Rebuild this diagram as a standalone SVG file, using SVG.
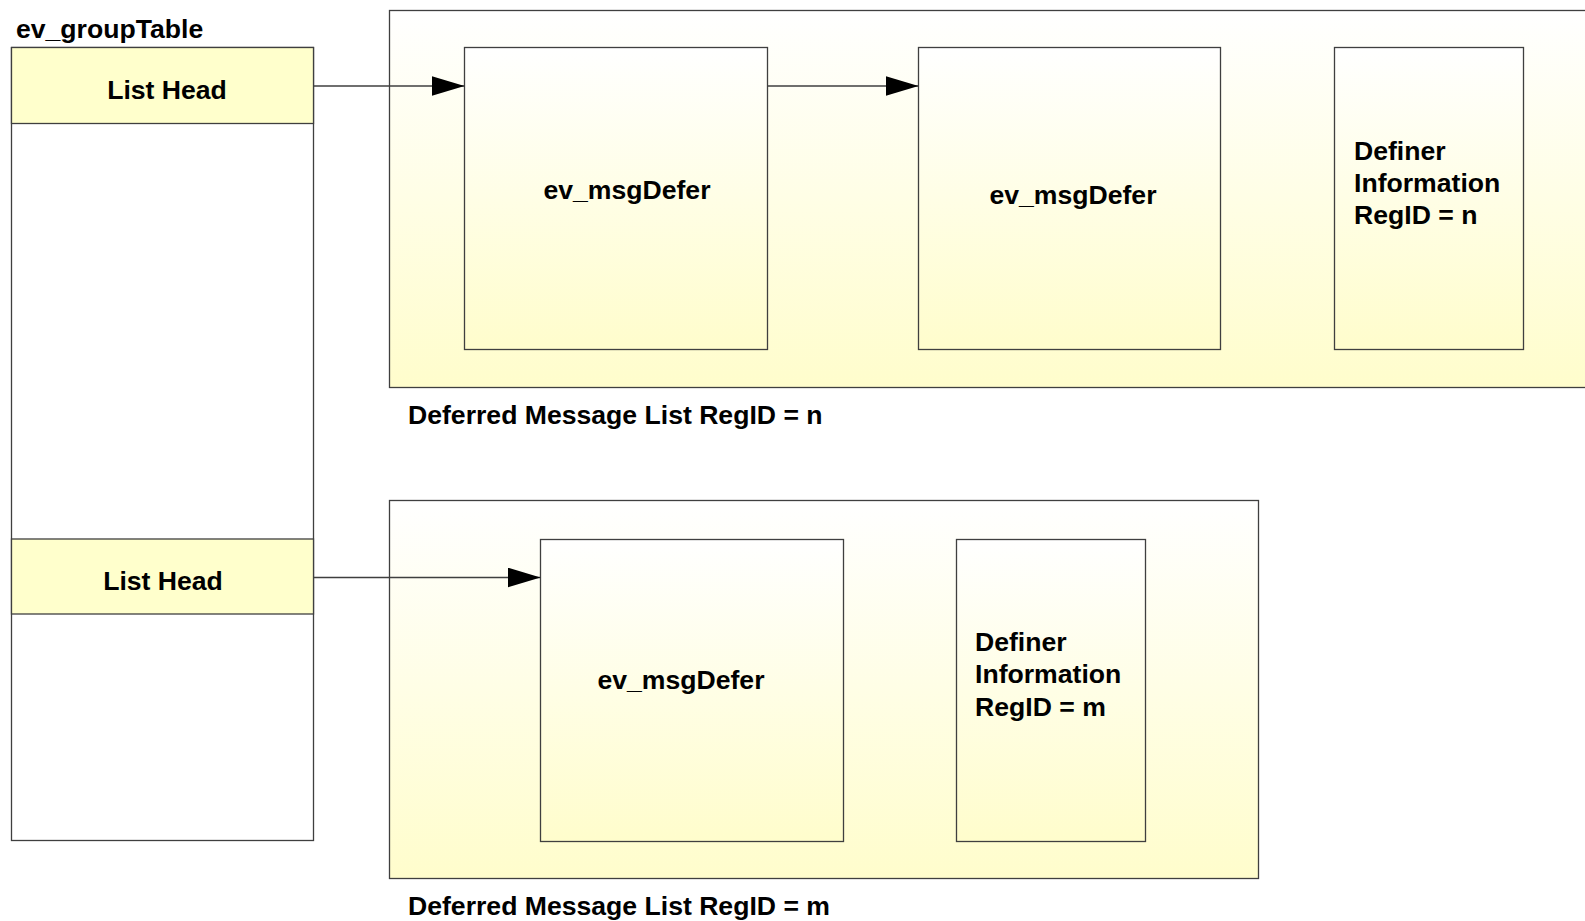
<svg xmlns="http://www.w3.org/2000/svg" width="1585" height="921" viewBox="0 0 1585 921">
<defs>
<linearGradient id="yg" x1="0" y1="0" x2="0" y2="1">
<stop offset="0" stop-color="#FFFFFF"/>
<stop offset="1" stop-color="#FFFDCC"/>
</linearGradient>
<marker id="arr" viewBox="0 0 33 20" refX="33" refY="10" markerWidth="33" markerHeight="20" markerUnits="userSpaceOnUse" orient="auto">
<path d="M0,0 L33,10 L0,20 Z" fill="#000"/>
</marker>
<style>
.box{fill:url(#yg);stroke:#3f3f3f;stroke-width:1.3}
.plain{fill:#FFFFFF;stroke:#3f3f3f;stroke-width:1.3}
.head{fill:#FFFFCC;stroke:#3f3f3f;stroke-width:1.3}
.t{font-family:"Liberation Sans",Arial,sans-serif;font-weight:bold;font-size:26.6px;fill:#000}
.c{text-anchor:middle}
.conn{stroke:#3f3f3f;stroke-width:1.3;fill:none;marker-end:url(#arr)}
</style>
</defs>
<g id="groupTable">
<text class="t" x="16" y="38">ev_groupTable</text>
<rect class="plain" x="11.5" y="47.5" width="302" height="793"/>
</g>
<g id="listHead1">
<rect class="head" x="11.5" y="47.5" width="302" height="76"/>
<text class="t c" x="167" y="99">List Head</text>
</g>
<g id="listHead2">
<rect class="head" x="11.5" y="539" width="302" height="75"/>
<text class="t c" x="163" y="590">List Head</text>
</g>
<g id="deferredListN">
<rect class="box" x="389.5" y="10.5" width="1220" height="377"/>
<text class="t" x="408" y="424">Deferred Message List RegID = n</text>
</g>
<g id="msgDefer1">
<rect class="box" x="464.5" y="47.5" width="303" height="302"/>
<text class="t c" x="627" y="199">ev_msgDefer</text>
</g>
<g id="msgDefer2">
<rect class="box" x="918.5" y="47.5" width="302" height="302"/>
<text class="t c" x="1073" y="204">ev_msgDefer</text>
</g>
<g id="definerN">
<rect class="box" x="1334.5" y="47.5" width="189" height="302"/>
<text class="t" x="1354" y="160">Definer</text>
<text class="t" x="1354" y="192">Information</text>
<text class="t" x="1354" y="224">RegID = n</text>
</g>
<g id="deferredListM">
<rect class="box" x="389.5" y="500.5" width="869" height="378"/>
<text class="t" x="408" y="915">Deferred Message List RegID = m</text>
</g>
<g id="msgDefer3">
<rect class="box" x="540.5" y="539.5" width="303" height="302"/>
<text class="t c" x="681" y="689">ev_msgDefer</text>
</g>
<g id="definerM">
<rect class="box" x="956.5" y="539.5" width="189" height="302"/>
<text class="t" x="975" y="651">Definer</text>
<text class="t" x="975" y="683">Information</text>
<text class="t" x="975" y="716">RegID = m</text>
</g>
<g id="connectors">
<line class="conn" x1="313.5" y1="86" x2="464.5" y2="86"/>
<line class="conn" x1="767.5" y1="86" x2="918.5" y2="86"/>
<line class="conn" x1="313.5" y1="577.5" x2="540.5" y2="577.5"/>
</g>
</svg>
